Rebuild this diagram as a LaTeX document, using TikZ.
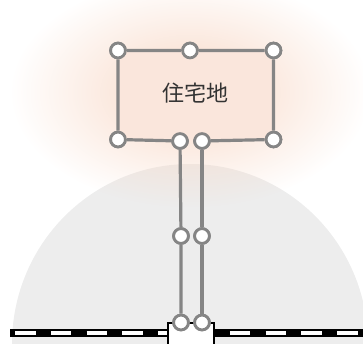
\documentclass[tikz,border=0pt]{standalone}
\usepackage{fontspec}
\newfontfamily\cjk{Noto Sans CJK JP}
\usetikzlibrary{fadings}
\definecolor{wiregray}{HTML}{858585}
\definecolor{glowpeach}{HTML}{F8D8C6}
\definecolor{lotfill}{HTML}{FAE6DC}
\definecolor{domegray}{HTML}{EDEDED}
\tikzfading[name=glowfade,inner color=transparent!0,outer color=transparent!100]

\begin{document}
\begin{tikzpicture}[x=1pt,y=-1pt,
  wire/.style={draw=wiregray,line width=3.2pt},
  stop/.style={circle,draw=wiregray,fill=white,line width=2.8pt,inner sep=0pt,minimum size=14.8pt},
  station/.style={rectangle,draw=black,fill=white,line width=1.4pt,inner sep=0pt,minimum width=46pt,minimum height=22pt},
  label/.style={font=\cjk\fontsize{22}{22}\selectfont,text=black!80}]
\useasboundingbox (0,0) rectangle (363,344);
% background: dome and glow
\fill[domegray] (190,344) ellipse [x radius=178pt,y radius=180pt];
\fill[glowpeach,path fading=glowfade] (190,92) ellipse [x radius=180pt,y radius=115pt];
% lot
\node[stop] (tl) at (118,50.5) {};
\node[stop] (tm) at (190,50.5) {};
\node[stop] (tr) at (273.5,50.5) {};
\node[stop] (bl) at (118,139.5) {};
\node[stop] (br) at (273.5,139.5) {};
\node[stop] (gl) at (180,141) {};
\node[stop] (gr) at (202,141) {};
\fill[lotfill] (tl.center) rectangle (br.center);
\node[label] (lot) at (195,93) {住宅地};
% track
\draw[line width=8pt] (10,333) -- (363,333);
\draw[white,line width=4pt,dash pattern=on 20.5pt off 15.3pt] (15,333) -- (363,333);
\node[station] (stn) at (191,334) {};
% links
\node[stop] (ml) at (181,236) {};
\node[stop] (mr) at (202,236) {};
\node[stop] (sl) at (181,322.5) {};
\node[stop] (sr) at (202,322.5) {};
\draw[wire] (gl) -- (bl) -- (tl) -- (tm) -- (tr) -- (br) -- (gr);
\draw[wire] (gl) -- (ml) -- (sl);
\draw[wire] (gr) -- (mr) -- (sr);
\foreach \n in {tl,tm,tr,bl,br,gl,gr,ml,mr,sl,sr}
  \node[stop] at (\n) {};
\end{tikzpicture}
\end{document}
